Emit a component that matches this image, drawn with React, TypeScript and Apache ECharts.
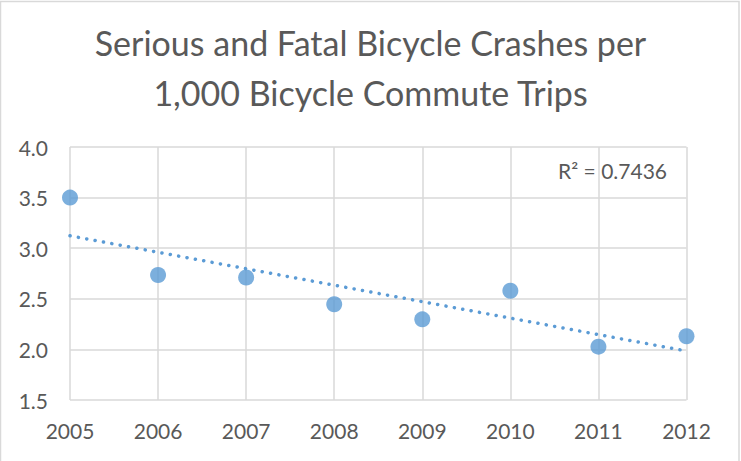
import React, { useEffect, useRef } from "react";
import * as echarts from "echarts";

const years = [2005, 2006, 2007, 2008, 2009, 2010, 2011, 2012];
const crashRates = [3.5, 2.735, 2.71, 2.446, 2.297, 2.58, 2.027, 2.13];
const yTicks = [1.5, 2.0, 2.5, 3.0, 3.5, 4.0];
const titleLines = ["Serious and Fatal Bicycle Crashes per", "1,000 Bicycle Commute Trips"];
const rSquaredLabel = "R² = 0.7436";

function linearFit(xs: number[], ys: number[]) {
  const n = xs.length;
  const mx = xs.reduce((a, b) => a + b, 0) / n;
  const my = ys.reduce((a, b) => a + b, 0) / n;
  let sxy = 0;
  let sxx = 0;
  for (let i = 0; i < n; i++) {
    sxy += (xs[i] - mx) * (ys[i] - my);
    sxx += (xs[i] - mx) * (xs[i] - mx);
  }
  const slope = sxy / sxx;
  const intercept = my - slope * mx;
  return { slope, intercept };
}

export default function App() {
  const ref = useRef<HTMLDivElement>(null);
  useEffect(() => {
    document.body.style.margin = "0";
    const chart = echarts.init(ref.current!, undefined, { renderer: "svg" });
    const fit = linearFit(years, crashRates);
    const x0 = years[0];
    const x1 = years[years.length - 1];
    const trend = [
      [x0, fit.intercept + fit.slope * x0],
      [x1, fit.intercept + fit.slope * x1],
    ];
    const font = "Lato";
    chart.setOption({
      animation: false,
      backgroundColor: "#ffffff",
      title: {
        text: titleLines.join("\n"),
        left: "center",
        top: 12,
        textStyle: {
          fontFamily: font,
          fontSize: 34,
          fontWeight: "normal",
          color: "#595959",
          lineHeight: 50,
        },
      },
      graphic: [
        {
          type: "rect",
          shape: { x: 0.5, y: 1.5, width: 738.5, height: 470 },
          style: { fill: "none", stroke: "#d9d9d9", lineWidth: 1.5 },
          silent: true,
        },
        {
          type: "text",
          right: 74,
          top: 160,
          style: {
            text: rSquaredLabel,
            fontFamily: font,
            fontSize: 21,
            fill: "#595959",
          },
        },
      ],
      grid: { left: 70, right: 54.5, top: 147, bottom: 61, containLabel: false },
      xAxis: {
        type: "value",
        min: 2005,
        max: 2012,
        interval: 1,
        axisLine: { show: false },
        axisTick: { show: false },
        axisLabel: {
          formatter: (v: number) => String(v),
          fontFamily: font,
          fontSize: 21,
          color: "#595959",
          margin: 20,
        },
        splitLine: { show: true, lineStyle: { color: "#d9d9d9", width: 1.5 } },
      },
      yAxis: {
        type: "value",
        min: yTicks[0],
        max: yTicks[yTicks.length - 1],
        interval: 0.5,
        axisLine: { show: false },
        axisTick: { show: false },
        axisLabel: {
          formatter: (v: number) => v.toFixed(1),
          fontFamily: font,
          fontSize: 21,
          color: "#595959",
          margin: 22,
        },
        splitLine: { show: true, lineStyle: { color: "#d9d9d9", width: 1.5 } },
      },
      series: [
        {
          type: "line",
          data: trend,
          symbol: "none",
          lineStyle: { color: "#5b9bd5", width: 3.5, type: [0.1, 8.4], cap: "round" },
          silent: true,
          z: 2,
        },
        {
          type: "scatter",
          data: years.map((y, i) => [y, crashRates[i]]),
          symbol: "circle",
          symbolSize: 16,
          itemStyle: { color: "#5b9bd5" },
          z: 3,
        },
      ],
    });
    return () => chart.dispose();
  }, []);
  return <div ref={ref} style={{ position: "absolute", left: 0, top: 0, width: 741, height: 461 }} />;
}
